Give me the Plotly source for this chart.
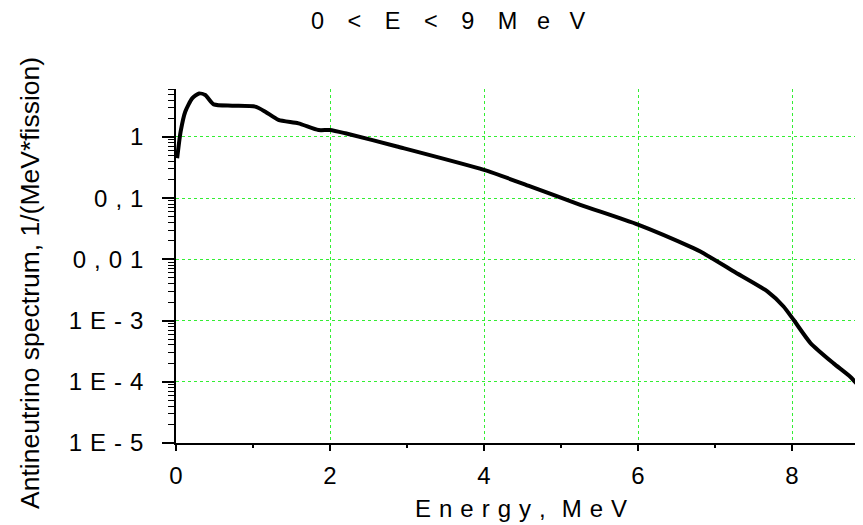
import plotly.graph_objects as go

# Data
energy_mev = [0.015, 0.06, 0.12, 0.21, 0.30, 0.38, 0.49, 0.73, 1.03, 1.16, 1.33, 1.59,
              1.85, 2.0, 2.2, 2.87, 4.0, 4.6, 5.25, 6.0, 6.72, 6.81, 7.24, 7.68, 7.89,
              8.02, 8.24, 8.54, 8.76, 8.93]
spectrum = [0.45, 1.22, 2.59, 4.27, 5.15, 4.85, 3.41, 3.25, 3.13, 2.59, 1.90, 1.67,
            1.30, 1.30, 1.15, 0.70, 0.29, 0.156, 0.078, 0.037, 0.0153, 0.0135, 0.0064,
            0.0030, 0.0017, 1.03e-3, 4.3e-4, 2.0e-4, 1.2e-4, 6.9e-5]

SP = "\u2004"   # three-per-em space, for the spaced-out lettering
EN = "\u2002"

y_tick_vals = [1e-5, 1e-4, 1e-3, 1e-2, 1e-1, 1]
y_tick_text = ["1 E - 5", "1 E - 4", "1 E - 3", "0 , 0 1", "0 , 1", "1"]
x_tick_vals = [0, 2, 4, 6, 8]
x_tick_text = ["0", "2", "4", "6", "8"]

title_parts = ["0 < E < 9", "M e V"]
x_title = "E n e r g y ,  M e V"
y_title = "Antineutrino spectrum, 1/(MeV*fission)"

# page has an 8px body margin: figure is offset by (8, 8) on screen
OFF = 8
W, H = 863 - OFF, 517
ML, MR, MT, MB = 168, 0, 81, 82
PW, PH = W - ML - MR, H - MT - MB


def px_x(sx):
    return (sx - OFF - ML) / PW


def px_y(sy):
    return (H - MB - (sy - OFF)) / PH


title_html = (title_parts[0].replace(" ", EN + EN) + EN + EN
              + title_parts[1].replace(" ", EN + SP))

y_minor = [k * 10 ** n for n in range(-5, 1) for k in range(2, 10)]
x_minor = [1, 3, 5, 7]

fig = go.Figure()
fig.add_trace(go.Scatter(
    x=energy_mev, y=spectrum, mode="lines",
    line=dict(color="black", width=4, shape="spline", smoothing=0.6),
    showlegend=False, hoverinfo="skip"))

grid_color = "#33ee33"
font_main = "Liberation Sans, Arial, sans-serif"

fig.update_layout(
    width=W, height=H,
    margin=dict(l=ML, r=MR, t=MT, b=MB),
    paper_bgcolor="white", plot_bgcolor="white",
    font=dict(family=font_main, size=24, color="black"),
    xaxis=dict(
        range=[0, PW / 77.0],
        tickmode="array", tickvals=x_tick_vals, ticktext=x_tick_text,
        ticks="outside", ticklen=6, tickwidth=1.5, tickcolor="black",
        ticklabelstandoff=4,
        showline=True, linecolor="black", linewidth=1.5,
        showgrid=True, gridcolor=grid_color, griddash="dot", gridwidth=1,
        zeroline=False,
        tickfont=dict(size=24),
        minor=dict(tickmode="array", tickvals=x_minor, ticks="outside",
                   ticklen=3, tickwidth=1.5, tickcolor="black", showgrid=False),
    ),
    yaxis=dict(
        type="log", range=[-5, 0.784],
        tickmode="array", tickvals=y_tick_vals,
        ticktext=[t.replace(" ", SP) for t in y_tick_text],
        ticks="outside", ticklen=12, tickwidth=1.5, tickcolor="black",
        ticklabelstandoff=14,
        showline=True, linecolor="black", linewidth=1.5,
        showgrid=True, gridcolor=grid_color, griddash="dot", gridwidth=1,
        zeroline=False,
        tickfont=dict(size=24),
        minor=dict(tickmode="array", tickvals=y_minor, ticks="outside",
                   ticklen=6, tickwidth=1.2, tickcolor="black", showgrid=False),
    ),
    annotations=[
        dict(text=title_html, xref="paper", yref="paper",
             x=px_x(448), y=px_y(21),
             showarrow=False, font=dict(size=23.5),
             xanchor="center", yanchor="middle"),
        dict(text=x_title.replace(" ", SP), xref="paper", yref="paper",
             x=px_x(521), y=px_y(508),
             showarrow=False, font=dict(size=24),
             xanchor="center", yanchor="middle"),
        dict(text=y_title, xref="paper", yref="paper", textangle=-90,
             x=px_x(30), y=px_y(283),
             showarrow=False, font=dict(size=26.5),
             xanchor="center", yanchor="middle"),
    ],
)

fig.write_html("out.html")
